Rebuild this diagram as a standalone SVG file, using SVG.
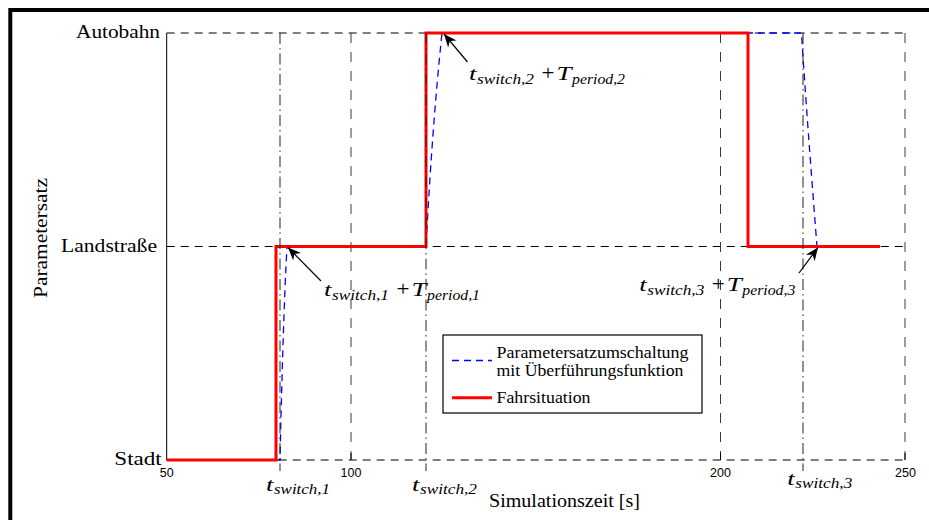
<svg xmlns="http://www.w3.org/2000/svg" width="929" height="520" viewBox="0 0 929 520">
<defs>
<style>
.serif{font-family:"Liberation Serif","Times New Roman",serif;fill:#000}
.lab{font-size:18px}
.leg{font-size:17px}
.it{font-style:italic;font-size:19px}
.op{font-size:20px}
.sub{font-style:italic;font-size:15px}
.num{font-family:"Liberation Sans",Arial,sans-serif;font-size:12.5px;text-anchor:middle;fill:#000}
.gh{stroke:#000;stroke-width:1;fill:none;stroke-dasharray:8 6}
.gv{stroke:#3a3a3a;stroke-width:1;fill:none;stroke-dasharray:10 9}
.ax{stroke:#000;stroke-width:1;fill:none}
.dd{stroke:#222;stroke-width:1;fill:none;stroke-dasharray:11 4 1.5 4}
.red{stroke:#ff0000;stroke-width:3;fill:none;stroke-linejoin:miter}
.blue{stroke:#0000ff;stroke-width:1.3;fill:none;stroke-dasharray:7 5}
.arrow{stroke:#000;stroke-width:1.2;fill:none;marker-end:url(#ah)}
</style>
<marker id="ah" viewBox="-14 -7 15 14" refX="0" refY="0" markerWidth="15" markerHeight="14" orient="auto" markerUnits="userSpaceOnUse">
<path d="M0,0 L-13,-5.5 L-9,0 L-13,5.5 Z" fill="#000"/>
</marker>
</defs>
<rect width="929" height="520" fill="#fff"/>
<g id="frame">
<path d="M10.3,520 V10 H929" stroke="#000" stroke-width="4" fill="none"/>
</g>
<g id="grid">
<path class="gh" d="M166.7,33 H905 M166.7,246.5 H905 M166.7,460 H905"/>
<path class="gv" d="M351,33 V460 M720.5,33 V460 M905,33 V460"/>
<path class="ax" d="M166.7,33 V460 M351,460 V453 M720.5,460 V453 M905,460 V453"/>
</g>
<g id="curves">
<path id="blue-curve" class="blue" d="M166.7,460 H280 C281.5,390 284,300 287,246.5 H426 C430,170 435,100 442,33 H801.5 C805,90 811,170 817,246.5 H880"/>
<path id="red-curve" class="red" d="M166.7,460 H276 V246.5 H426 V33 H748 V246.5 H880"/>
</g>
<g id="switch-lines">
<path class="dd" d="M280,33 V471 M426,33 V471 M803,33 V471"/>
</g>
<g id="y-labels" class="serif lab">
<text x="76" y="37.5" textLength="84" lengthAdjust="spacingAndGlyphs">Autobahn</text>
<text x="61" y="251.5" textLength="96" lengthAdjust="spacingAndGlyphs">Landstraße</text>
<text x="114.3" y="464.5" textLength="47.5" lengthAdjust="spacingAndGlyphs">Stadt</text>
<text transform="translate(46.5,238) rotate(-90)" text-anchor="middle" textLength="120" lengthAdjust="spacingAndGlyphs">Parametersatz</text>
</g>
<g id="x-labels">
<text class="num" x="166.7" y="477">50</text>
<text class="num" x="351" y="477">100</text>
<text class="num" x="720.5" y="477">200</text>
<text class="num" x="905.5" y="477">250</text>
<text class="serif lab" x="489" y="507" textLength="151" lengthAdjust="spacingAndGlyphs">Simulationszeit [s]</text>
</g>
<g id="tswitch1" class="serif">
<text class="it" x="266" y="491" textLength="7.5" lengthAdjust="spacingAndGlyphs">t</text>
<text class="sub" x="274" y="494" textLength="56" lengthAdjust="spacingAndGlyphs">switch,1</text>
</g>
<g id="tswitch2" class="serif">
<text class="it" x="412" y="491" textLength="7.5" lengthAdjust="spacingAndGlyphs">t</text>
<text class="sub" x="420" y="494" textLength="57" lengthAdjust="spacingAndGlyphs">switch,2</text>
</g>
<g id="tswitch3" class="serif">
<text class="it" x="787.3" y="485" textLength="7.5" lengthAdjust="spacingAndGlyphs">t</text>
<text class="sub" x="795.3" y="488" textLength="57" lengthAdjust="spacingAndGlyphs">switch,3</text>
</g>
<g id="label1" class="serif">
<text class="it" x="324" y="296" textLength="7.5" lengthAdjust="spacingAndGlyphs">t</text>
<text class="sub" x="332" y="300" textLength="57" lengthAdjust="spacingAndGlyphs">switch,1</text>
<text class="op" x="396.5" y="296" textLength="13" lengthAdjust="spacingAndGlyphs">+</text>
<text class="it" x="411.5" y="296" textLength="15" lengthAdjust="spacingAndGlyphs">T</text>
<text class="sub" x="427" y="300" textLength="53" lengthAdjust="spacingAndGlyphs">period,1</text>
</g>
<g id="label2" class="serif">
<text class="it" x="469" y="80" textLength="7.5" lengthAdjust="spacingAndGlyphs">t</text>
<text class="sub" x="477" y="84" textLength="57" lengthAdjust="spacingAndGlyphs">switch,2</text>
<text class="op" x="541.5" y="80" textLength="13" lengthAdjust="spacingAndGlyphs">+</text>
<text class="it" x="556.5" y="80" textLength="15" lengthAdjust="spacingAndGlyphs">T</text>
<text class="sub" x="572" y="84" textLength="53" lengthAdjust="spacingAndGlyphs">period,2</text>
</g>
<g id="label3" class="serif">
<text class="it" x="639.3" y="291" textLength="7.5" lengthAdjust="spacingAndGlyphs">t</text>
<text class="sub" x="647.3" y="295" textLength="57" lengthAdjust="spacingAndGlyphs">switch,3</text>
<text class="op" x="711.8" y="291" textLength="13" lengthAdjust="spacingAndGlyphs">+</text>
<text class="it" x="726.8" y="291" textLength="15" lengthAdjust="spacingAndGlyphs">T</text>
<text class="sub" x="742.3" y="295" textLength="53" lengthAdjust="spacingAndGlyphs">period,3</text>
</g>
<g id="connectors">
<line class="arrow" x1="321" y1="281" x2="288" y2="247.5"/>
<line class="arrow" x1="467.5" y1="62" x2="444" y2="34"/>
<line class="arrow" x1="799" y1="273" x2="818" y2="247.5"/>
</g>
<g id="legend">
<rect x="443" y="335" width="259" height="78" fill="#fff" stroke="#000" stroke-width="1.2"/>
<line x1="452" y1="360.5" x2="492" y2="360.5" class="blue"/>
<line x1="452" y1="397.7" x2="492" y2="397.7" stroke="#ff0000" stroke-width="3"/>
<g class="serif leg">
<text x="496.5" y="358.3" textLength="192" lengthAdjust="spacingAndGlyphs">Parametersatzumschaltung</text>
<text x="496.5" y="375.5" textLength="187" lengthAdjust="spacingAndGlyphs">mit Überführungsfunktion</text>
<text x="496.5" y="403" textLength="94" lengthAdjust="spacingAndGlyphs">Fahrsituation</text>
</g>
</g>
</svg>
